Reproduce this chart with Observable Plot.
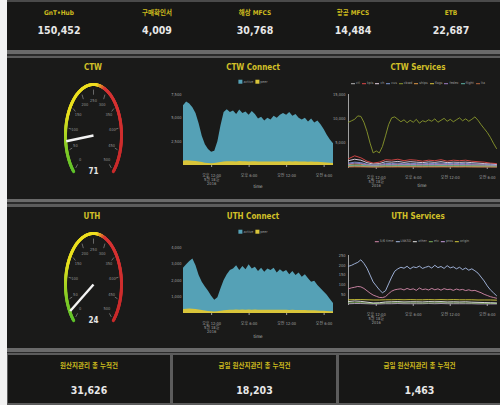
<!DOCTYPE html>
<html><head><meta charset="utf-8">
<script src="https://cdn.jsdelivr.net/npm/d3@7"></script>
<script src="https://cdn.jsdelivr.net/npm/@observablehq/plot@0.6"></script>
<style>
html,body{margin:0;padding:0;background:#f2f2f2;width:500px;height:405px;overflow:hidden;}
#dash{position:absolute;left:0;top:0;width:500px;height:405px;font-family:"DejaVu Sans Condensed","Liberation Sans Narrow","Noto Sans CJK KR",sans-serif;}
.abs{position:absolute;}
.panel{position:absolute;left:7px;width:493px;background:#1a1a19;}
.t{position:absolute;transform:translate(-50%,-50%);white-space:nowrap;line-height:1;}
.lab{color:#cdbb1e;font-size:6.5px;font-weight:bold;}
.val{color:#e8e8e8;font-size:10.5px;font-weight:bold;}
.ttl{color:#d2c028;font-size:8px;font-weight:bold;}
.leg{color:#9a9a9a;font-size:3.6px;display:flex;gap:2px;align-items:center;}
.leg i{display:inline-block;margin-right:1px;vertical-align:middle;}
.tm{color:#bbb;font-size:4.5px;}
</style></head>
<body><div id="dash"></div>
<script>
// ---------------- data ----------------
const kpiLabels = ["GnT•Hub", "구매확인서", "해상 MFCS", "항공 MFCS", "ETB"];
const kpiValues = [150452, 4009, 30768, 14484, 22687];
const totalLabels = ["원산지관리 총 누적건", "금일 원산지관리 총 누적건", "금일 원산지관리 총 누적건"];
const totalValues = [31626, 18203, 1463];

const gaugeNames = ["CTW", "UTH"];
const gaugeValues = [71, 24];
const gaugeTicks = [0, 50, 100, 150, 200, 250, 300, 350, 400, 450, 500];
const gaugeStops = [0, 60, 130, 265, 295, 500];
const gaugeColors = ["#5cc02a", "#86cc26", "#e8e01e", "#f0df20", "#d83434", "#c82a2a"];

const connectNames = ["active", "peer"];
const connectColors = ["#55a1b6", "#d9c53a"];

const tickDates = [new Date(2016, 4, 18, 12), new Date(2016, 4, 18, 18), new Date(2016, 4, 19, 0), new Date(2016, 4, 19, 6)];
const tickLabels = ["오후 12:00\n5월 18일\n2016", "오후 6:00", "오전 12:00", "오전 6:00"];

// half-hourly series, 07:30 -> 07:30 next day
const ctwActive = [6300, 6700, 6500, 6100, 5500, 4400, 3100, 2200, 1700, 1400, 1500, 2500, 4200, 5600, 5900, 5600, 5750, 5400, 5850, 5500, 5650, 5300, 5700, 5400, 4900, 5100, 4700, 5000, 4800, 5200, 5000, 5300, 5500, 5300, 5600, 5200, 5400, 5000, 4800, 5000, 4600, 4900, 4500, 4700, 4300, 3800, 3200, 2700, 2300];
const ctwPeer = [450, 500, 480, 450, 420, 380, 320, 250, 200, 180, 200, 260, 330, 380, 400, 390, 400, 380, 410, 390, 400, 380, 400, 390, 370, 380, 360, 370, 360, 380, 370, 380, 390, 380, 400, 380, 390, 370, 360, 370, 350, 360, 340, 350, 330, 300, 270, 240, 220];
const uthActive = [2750, 2950, 3150, 3300, 2900, 2300, 1900, 1600, 1350, 1050, 800, 950, 1500, 2000, 2350, 2600, 2700, 2900, 2600, 2850, 2650, 2950, 2700, 2800, 2550, 2750, 2500, 2700, 2600, 2750, 2450, 2650, 2500, 2600, 2350, 2550, 2300, 2450, 2200, 2350, 2100, 1900, 1950, 1700, 1500, 1300, 1100, 850, 600];
const uthPeer = [250, 260, 270, 260, 240, 210, 180, 150, 120, 100, 90, 100, 130, 160, 180, 190, 200, 210, 200, 210, 200, 210, 200, 205, 195, 200, 190, 200, 195, 200, 190, 195, 190, 195, 185, 190, 180, 185, 175, 180, 170, 165, 160, 150, 140, 130, 120, 110, 100];

// CTW services
const ctwServiceNames = ["ctl", "kpis", "ch", "cus", "cbwd", "ships", "flags", "fedex", "flight", "lta"];
const ctwServiceColors = ["#b5b5b5", "#e04848", "#ead6e6", "#7e9ad6", "#8a982c", "#e39a48", "#d9c23c", "#a27fc8", "#5fb3a3", "#b8673e"];
const ctwCbwd = [9300, 9600, 9900, 10600, 10500, 9300, 7400, 5000, 3000, 3400, 3000, 4300, 6500, 8800, 10200, 10400, 9900, 9400, 9800, 9200, 9700, 9300, 9900, 9100, 9600, 9400, 9800, 9500, 10000, 9300, 9700, 10100, 9500, 9900, 9400, 9800, 10200, 9600, 10000, 9500, 9900, 10400, 9700, 8800, 8000, 7200, 6200, 5000, 3900];
// hourly, 07:30 -> 07:30
const ctwCtl = [200, 250, 220, 180, 150, 160, 200, 190, 210, 190, 200, 190, 180, 200, 190, 210, 190, 200, 190, 200, 180, 170, 160, 150, 140];
const ctwKpis = [1800, 2400, 2000, 1300, 900, 1100, 1600, 1500, 1700, 1400, 1600, 1500, 1300, 1500, 1400, 1600, 1300, 1500, 1400, 1500, 1300, 1200, 1100, 900, 800];
const ctwCh = [1400, 1700, 1500, 1000, 700, 800, 1200, 1100, 1250, 1050, 1200, 1100, 1000, 1150, 1050, 1200, 1000, 1100, 1050, 1100, 1000, 900, 800, 700, 600];
const ctwCus = [900, 1100, 1000, 700, 500, 600, 850, 800, 900, 750, 850, 800, 750, 850, 800, 900, 800, 850, 800, 850, 750, 700, 650, 550, 500];
const ctwShips = [600, 700, 650, 500, 400, 450, 550, 550, 600, 550, 600, 550, 550, 600, 550, 600, 550, 600, 550, 550, 500, 500, 450, 400, 400];
const ctwFlags = [300, 350, 320, 250, 200, 220, 280, 270, 290, 270, 280, 270, 260, 280, 270, 290, 270, 280, 270, 280, 260, 250, 230, 210, 200];
const ctwFedex = [700, 900, 800, 550, 400, 450, 650, 600, 700, 600, 650, 600, 580, 650, 600, 680, 600, 650, 620, 640, 580, 540, 500, 450, 400];
const ctwFlight = [400, 480, 450, 350, 280, 300, 380, 370, 400, 360, 390, 370, 350, 380, 360, 400, 360, 380, 370, 380, 350, 330, 300, 280, 260];
const ctwLta = [100, 120, 110, 90, 70, 80, 100, 95, 105, 95, 100, 95, 90, 100, 95, 105, 95, 100, 95, 100, 90, 85, 80, 75, 70];

// UTH services
const uthServiceNames = ["5/6 time", "LNKSD", "other", "etc", "pros", "origin"];
const uthServiceColors = ["#d68aac", "#a9bde6", "#e6e6e6", "#7fb35a", "#c8a0e0", "#d9cf3a"];
const uthTime = [80, 85, 88, 92, 90, 82, 70, 58, 48, 42, 36, 35, 40, 55, 68, 75, 78, 80, 74, 82, 76, 80, 72, 84, 76, 79, 74, 82, 75, 80, 73, 81, 76, 78, 72, 79, 74, 77, 71, 75, 70, 72, 66, 60, 52, 46, 40, 36, 32];
const uthLnksd = [195, 200, 208, 215, 228, 210, 185, 150, 115, 95, 75, 60, 70, 105, 140, 170, 182, 190, 185, 195, 182, 192, 188, 196, 184, 190, 195, 186, 200, 188, 194, 184, 198, 187, 192, 182, 190, 178, 186, 175, 182, 172, 160, 140, 120, 95, 75, 60, 45];
const uthOther = [15, 18, 16, 12, 8, 9, 13, 14, 15, 13, 14, 14, 13, 15, 14, 15, 13, 14, 13, 14, 12, 11, 10, 9, 8];
const uthEtc = [8, 9, 9, 7, 5, 6, 8, 8, 9, 8, 8, 8, 7, 8, 8, 9, 8, 8, 8, 8, 7, 7, 6, 6, 5];
const uthPros = [4, 5, 5, 4, 3, 3, 4, 4, 5, 4, 4, 4, 4, 5, 4, 5, 4, 4, 4, 4, 4, 3, 3, 3, 3];
const uthOrigin = [24, 25, 25, 24, 23, 23, 24, 24, 25, 24, 25, 24, 24, 25, 24, 25, 24, 25, 24, 24, 24, 23, 23, 23, 22];

// ---------------- helpers ----------------
const start = new Date(2016, 4, 18, 7, 30).getTime();
const times = (arr, stepMin) => arr.map((_, i) => new Date(start + i * stepMin * 60000));
const fmt = d3.format(",");
const FONT = '"DejaVu Sans Condensed","Liberation Sans Narrow","Noto Sans CJK KR",sans-serif';
const tickMap = new Map(tickDates.map((d, i) => [d.getTime(), tickLabels[i]]));
const dash = document.getElementById("dash");

function div(cls, css, html) {
  const e = document.createElement("div");
  if (cls) e.className = cls;
  if (css) e.style.cssText = css;
  if (html != null) e.innerHTML = html;
  dash.appendChild(e);
  return e;
}
function text(cls, x, y, s) { return div("t " + cls, `left:${x}px;top:${y}px;`, s); }
function place(node, x, y) {
  const w = div("abs", `left:${x}px;top:${y}px;`);
  w.appendChild(node);
  return w;
}

// ---------------- layout ----------------
div("panel", "top:0;height:50px;background:#171716;border-top:2px solid #4a4a4a;box-sizing:border-box;");
div("abs", "left:7px;top:50px;width:493px;height:4px;background:#6a6a6a;");
div("abs", "left:7px;top:54px;width:493px;height:2px;background:#2a2a2a;");
div("abs", "left:7px;top:56px;width:493px;height:2px;background:#5c5c5c;");
div("panel", "top:58px;height:141px;");
div("abs", "left:7px;top:199px;width:493px;height:3px;background:#6a6a6a;");
div("abs", "left:7px;top:202px;width:493px;height:2px;background:#2a2a2a;");
div("abs", "left:7px;top:204px;width:493px;height:3px;background:#5c5c5c;");
div("panel", "top:207px;height:141px;");
div("abs", "left:7px;top:348px;width:493px;height:4px;background:#6a6a6a;");
div("abs", "left:7px;top:352px;width:493px;height:1px;background:#2a2a2a;");
div("abs", "left:7px;top:353px;width:493px;height:2px;background:#5c5c5c;");
div("panel", "top:355px;height:50px;background:#5c5c5c;");
const boxes = [[8, 162], [173, 163], [339, 161]];
boxes.forEach(([x, w]) => div("abs", `left:${x}px;top:355px;width:${w}px;height:48px;background:#171716;`));

kpiLabels.forEach((l, i) => {
  const cx = 10 + 98 * i + 49;
  text("lab", cx, 13, l);
  text("val", cx, 30, fmt(kpiValues[i]));
});
totalLabels.forEach((l, i) => {
  const [x, w] = boxes[i];
  text("lab", x + w / 2, 366, l);
  text("val", x + w / 2, 390, fmt(totalValues[i]));
});

// ---------------- gauge ----------------
function gauge(value) {
  const ang = v => (-135 + v / 500 * 270) * Math.PI / 180;
  const px = (v, r) => r * Math.sin(ang(v));
  const py = (v, r) => r * Math.cos(ang(v));
  const arcVals = d3.range(0, 500, 2.5);
  return Plot.plot({
    width: 157, height: 140, margin: 0,
    style: {background: "transparent", fontFamily: FONT},
    x: {domain: [-1, 1], range: [85 - 28, 85 + 28], axis: null},
    y: {domain: [-1, 1], range: [77 + 51, 77 - 51], axis: null},
    color: {type: "linear", domain: gaugeStops, range: gaugeColors},
    marks: [
      Plot.link(arcVals, {x1: v => px(v, 1), y1: v => py(v, 1), x2: v => px(v + 2.5, 1), y2: v => py(v + 2.5, 1), stroke: v => v, strokeWidth: 3, strokeLinecap: "round"}),
      Plot.link(gaugeTicks, {x1: v => px(v, 0.8), y1: v => py(v, 0.8), x2: v => px(v, 0.9), y2: v => py(v, 0.9), stroke: "#8a8a8a", strokeWidth: 0.7}),
      Plot.text(gaugeTicks, {x: v => px(v, 0.68), y: v => py(v, 0.68), text: v => String(v), fill: "#8e8e8e", fontSize: 4}),
      Plot.link([value], {x1: 0, y1: 0, x2: v => px(v, 0.98), y2: v => py(v, 0.98), stroke: "#f4f4f4", strokeWidth: 2.4}),
      Plot.text([value], {x: 0, y: -0.7, text: v => String(v), fill: "#e6e6e6", fontSize: 8, fontWeight: "bold"})
    ]
  });
}

// ---------------- connect chart ----------------
function connect(active, peer, yMax, yTicks, mt, mb) {
  const t = times(active, 30);
  const data = active.map((a, i) => ({t: t[i], a, p: peer[i]}));
  return Plot.plot({
    width: 185, height: 140, marginLeft: 28, marginRight: 7, marginTop: mt, marginBottom: mb,
    style: {background: "transparent", color: "#a0a0a0", fontSize: "4px", fontFamily: FONT},
    x: {type: "time", domain: [t[0], t[t.length - 1]], ticks: tickDates, tickFormat: d => tickMap.get(+d) || "", tickSize: 2, label: null},
    y: {domain: [0, yMax], ticks: yTicks, tickFormat: fmt, tickSize: 0, tickPadding: 2, label: null},
    marks: [
      Plot.areaY(data, {x: "t", y: "a", fill: connectColors[0]}),
      Plot.areaY(data, {x: "t", y: "p", fill: connectColors[1]})
    ]
  });
}

// ---------------- services chart ----------------
function services(series, names, colors, yMax, yTicks, mt, mb) {
  const data = series.flatMap(([name, vals, step]) => {
    const t = times(vals, step);
    return vals.map((v, i) => ({t: t[i], v, name}));
  });
  const t0 = new Date(start), t1 = new Date(start + 24 * 3600000);
  return Plot.plot({
    width: 182, height: 140, marginLeft: 30, marginRight: 4, marginTop: mt, marginBottom: mb,
    style: {background: "transparent", color: "#a0a0a0", fontSize: "4px", fontFamily: FONT},
    x: {type: "time", domain: [t0, t1], ticks: tickDates, tickFormat: d => tickMap.get(+d) || "", tickSize: 2, label: null},
    y: {domain: [0, yMax], ticks: yTicks, tickFormat: fmt, tickSize: 0, tickPadding: 3, label: null, line: true},
    color: {domain: names, range: colors},
    marks: [
      Plot.lineY(data, {x: "t", y: "v", z: "name", stroke: "name", strokeWidth: 0.9})
    ]
  });
}

function legendBox(names, colors, cx, cy, kind) {
  const items = names.map((n, i) => kind === "sq"
    ? `<span><i style="width:4px;height:4px;background:${colors[i]}"></i>${n}</span>`
    : `<span><i style="width:4px;height:1px;background:${colors[i]}"></i>${n}</span>`).join("");
  return text("leg", cx, cy, items);
}

// ---------------- CTW row ----------------
text("ttl", 93, 68, gaugeNames[0]);
place(gauge(gaugeValues[0]), 8, 58);
text("ttl", 253, 68, "CTW Connect");
legendBox(connectNames, connectColors, 253, 82, "sq");
place(connect(ctwActive, ctwPeer, 7500, [2500, 5000, 7500], 36, 33), 155, 58);
text("tm", 258, 187, "time");
text("ttl", 418, 68, "CTW Services");
legendBox(ctwServiceNames, ctwServiceColors, 418, 84, "ln");
place(services([
  ["ctl", ctwCtl, 60], ["kpis", ctwKpis, 60], ["ch", ctwCh, 60], ["cus", ctwCus, 60],
  ["ships", ctwShips, 60], ["flags", ctwFlags, 60], ["fedex", ctwFedex, 60],
  ["flight", ctwFlight, 60], ["lta", ctwLta, 60], ["cbwd", ctwCbwd, 30]
], ctwServiceNames, ctwServiceColors, 15000, [5000, 10000, 15000], 36, 31), 318, 58);
text("tm", 422, 186, "time");

// ---------------- UTH row ----------------
text("ttl", 92, 217, gaugeNames[1]);
place(gauge(gaugeValues[1]), 8, 207);
text("ttl", 253, 217, "UTH Connect");
legendBox(connectNames, connectColors, 253, 232, "sq");
place(connect(uthActive, uthPeer, 4000, [1000, 2000, 3000, 4000], 40, 34), 155, 207);
text("tm", 258, 337, "time");
text("ttl", 418, 217, "UTH Services");
legendBox(uthServiceNames, uthServiceColors, 422, 242, "ln");
place(services([
  ["origin", uthOrigin, 60], ["pros", uthPros, 60], ["etc", uthEtc, 60], ["other", uthOther, 60],
  ["5/6 time", uthTime, 30], ["LNKSD", uthLnksd, 30]
], uthServiceNames, uthServiceColors, 250, [50, 100, 150, 200, 250], 48, 43), 318, 207);
</script></body></html>
